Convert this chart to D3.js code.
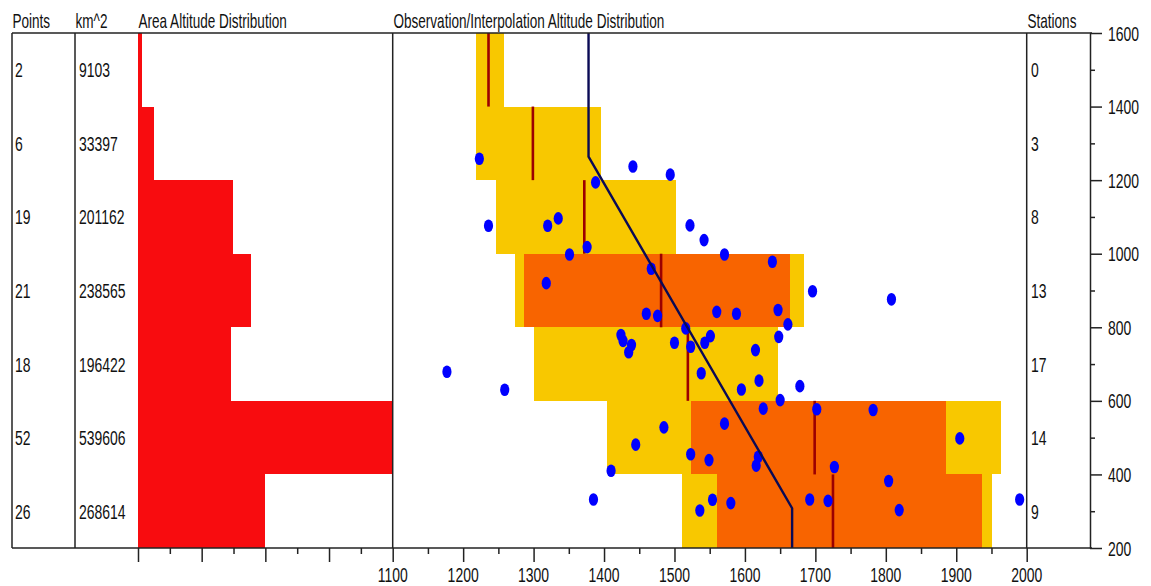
<!DOCTYPE html>
<html>
<head>
<meta charset="utf-8">
<script src="https://cdn.jsdelivr.net/npm/d3@7"></script>
<style>
  html, body { margin: 0; padding: 0; background: #fff; }
  svg { display: block; }
  text { font-family: "Liberation Sans", Arial, sans-serif; font-size: 21px; fill: #111; }
  rect { shape-rendering: crispEdges; }
</style>
</head>
<body>
<svg id="chart" width="1151" height="586"></svg>
<script>
// Altitude bands (m), top to bottom
const bandLow  = [1400, 1200, 1000, 800, 600, 400, 200];
const bandHigh = [1600, 1400, 1200, 1000, 800, 600, 400];

// Per-band table values
const pointCounts   = [2, 6, 19, 21, 18, 52, 26];
const areaKm2       = [9103, 33397, 201162, 238565, 196422, 539606, 268614];
const stationCounts = [0, 3, 8, 13, 17, 14, 9];

// Observation / interpolation ranges per band
const rangeMin = [1218, 1218, 1246, 1274, 1300, 1404, 1510];
const rangeMax = [1258, 1396, 1502, 1684, 1647, 1963, 1951];
const innerMin = [null, null, null, 1286, null, 1523, 1561];
const innerMax = [null, null, null, 1664, null, 1886, 1937];
const bandMean = [1236, 1299, 1372, 1481, 1519, 1699, 1725];

// Lapse line (altitude, value)
const lapseAlt = [1600, 1264, 308, 200];
const lapseVal = [1378, 1378, 1667, 1667];

// Station observations: value and altitude
const obsVal = [1223,1441,1388,1494,1236,1320,1335,1351,1376,1318,1522,1542,1571,1639,1467,1696,1808,
  1460,1476,1560,1588,1647,1661,1516,1648,1551,1424,1427,1439,1435,1500,1523,1543,1615,1538,1620,1595,
  1678,1650,1626,1485,1571,1445,1410,1523,1549,1616,1619,1554,1580,1536,1385,1259,1177,1702,1782,1905,
  1727,1804,1692,1718,1819,1990];
const obsAlt = [1258,1237,1194,1215,1076,1076,1096,998,1018,920,1077,1037,998,978,959,898,876,
  837,831,842,837,847,808,797,774,776,779,763,752,732,758,747,758,738,675,655,631,
  640,602,579,528,538,481,410,455,439,424,448,331,322,302,332,630,679,577,575,498,
  420,382,332,328,303,332];

// Axis tick labels
const obsTickLabels = [1100,1200,1300,1400,1500,1600,1700,1800,1900,2000];
const altTickLabels = [200,400,600,800,1000,1200,1400,1600];

const headers = [
  {text: "Points", x: 12},
  {text: "km^2", x: 75},
  {text: "Area Altitude Distribution", x: 138},
  {text: "Observation/Interpolation Altitude Distribution", x: 393},
  {text: "Stations", x: 1027}
];

const svg = d3.select("#chart");

const plotTop = 33, plotBottom = 548;
const leftEdge = 12, colPts = 75, areaL = 138, obsL = 392.7, obsR = 1026.7, axisX = 1090;

const y = d3.scaleLinear().domain([200, 1600]).range([plotBottom, plotTop]);
const xObs = d3.scaleLinear().domain([1100, 2000]).range([obsL, obsR]);
const maxArea = d3.max(areaKm2);
const xArea = d3.scaleLinear().domain([0, maxArea]).range([areaL, obsL]);

const SX = 0.645, SXN = 0.665;
function label(str, x, yy, anchor, sx) {
  svg.append("text")
    .attr("transform", `translate(${x},${yy}) scale(${sx},1)`)
    .attr("text-anchor", anchor || "start")
    .text(str);
}

const idx = d3.range(bandLow.length);
// Band rows are snapped to whole pixels so adjacent bands meet without seams
const rowTop = i => Math.round(y(bandHigh[i]));
const rowH = i => Math.round(y(bandLow[i])) - Math.round(y(bandHigh[i]));

// Area histogram
svg.append("g").selectAll("rect").data(idx).join("rect")
  .attr("x", xArea(0))
  .attr("y", rowTop)
  .attr("width", i => xArea(areaKm2[i]) - xArea(0))
  .attr("height", rowH)
  .attr("fill", "#f80c0f");

// Outer ranges (yellow)
svg.append("g").selectAll("rect").data(idx).join("rect")
  .attr("x", i => xObs(rangeMin[i]))
  .attr("y", rowTop)
  .attr("width", i => xObs(rangeMax[i]) - xObs(rangeMin[i]))
  .attr("height", rowH)
  .attr("fill", "#f8c800");

// Inner ranges (orange)
svg.append("g").selectAll("rect").data(idx.filter(i => innerMin[i] != null)).join("rect")
  .attr("x", i => xObs(innerMin[i]))
  .attr("y", rowTop)
  .attr("width", i => xObs(innerMax[i]) - xObs(innerMin[i]))
  .attr("height", rowH)
  .attr("fill", "#f86400");

// Band means
svg.append("g").selectAll("line").data(idx).join("line")
  .attr("x1", i => xObs(bandMean[i])).attr("x2", i => xObs(bandMean[i]))
  .attr("y1", i => y(bandHigh[i])).attr("y2", i => y(bandLow[i]))
  .attr("stroke", "#9c0000").attr("stroke-width", 2.6);

// Observations
svg.append("g").selectAll("ellipse").data(d3.range(obsVal.length)).join("ellipse")
  .attr("cx", i => xObs(obsVal[i]))
  .attr("cy", i => y(obsAlt[i]))
  .attr("rx", 4.6).attr("ry", 6.3)
  .attr("fill", "#0000ff");

// Lapse line
const lapse = d3.line().x(i => xObs(lapseVal[i])).y(i => y(lapseAlt[i]));
svg.append("path").attr("d", lapse(d3.range(lapseAlt.length)))
  .attr("fill", "none").attr("stroke", "#0a0a55").attr("stroke-width", 2.4);

// Frame
const frame = svg.append("g").attr("stroke", "#222").attr("stroke-width", 1.5);
frame.append("line").attr("x1", leftEdge).attr("x2", axisX + 2).attr("y1", plotTop).attr("y2", plotTop);
frame.append("line").attr("x1", leftEdge).attr("x2", axisX + 2).attr("y1", plotBottom).attr("y2", plotBottom);
[leftEdge, colPts, obsL, obsR].forEach(xv => {
  frame.append("line").attr("x1", xv).attr("x2", xv).attr("y1", plotTop).attr("y2", plotBottom);
});

// Right altitude axis
const yAxis = d3.axisRight(y).tickValues(d3.range(200, 1601, 100))
  .tickSize(0).tickFormat("");
const ya = svg.append("g").attr("transform", `translate(${axisX},0)`).call(yAxis);
ya.select(".domain").attr("stroke", "#222").attr("stroke-width", 1.5);
ya.selectAll(".tick line")
  .attr("x2", d => altTickLabels.includes(d) ? 12 : 5)
  .attr("stroke", "#222").attr("stroke-width", 1.5);
altTickLabels.forEach(v => label(v, axisX + 18, y(v) + 7.5, "start", SXN));

// Bottom axes
const obsAxis = d3.axisBottom(xObs).tickValues(d3.range(1100, 2001, 50)).tickSize(0).tickFormat("");
const oa = svg.append("g").attr("transform", `translate(0,${plotBottom})`).call(obsAxis);
oa.select(".domain").remove();
oa.selectAll(".tick line")
  .attr("y2", d => obsTickLabels.includes(d) ? 14 : 6)
  .attr("stroke", "#222").attr("stroke-width", 1.5);
obsTickLabels.forEach(v => label(v, xObs(v), 582, "middle", SXN));

const areaAxis = d3.axisBottom(xArea).tickValues(d3.range(0, 8).map(k => k * maxArea / 8)).tickSize(0).tickFormat("");
const aa = svg.append("g").attr("transform", `translate(0,${plotBottom})`).call(areaAxis);
aa.select(".domain").remove();
aa.selectAll(".tick line")
  .attr("y2", (d, k) => k % 2 === 0 ? 14 : 6)
  .attr("stroke", "#222").attr("stroke-width", 1.5);

// Headers
headers.forEach(h => label(h.text, h.x + 0.5, 28, "start", SX));

// Row labels
idx.forEach(i => {
  const cy = (y(bandHigh[i]) + y(bandLow[i])) / 2 + 7.5;
  label(pointCounts[i], 15, cy, "start", SXN);
  label(areaKm2[i], 79, cy, "start", SXN);
  label(stationCounts[i], 1031, cy, "start", SXN);
});
</script>
</body>
</html>
